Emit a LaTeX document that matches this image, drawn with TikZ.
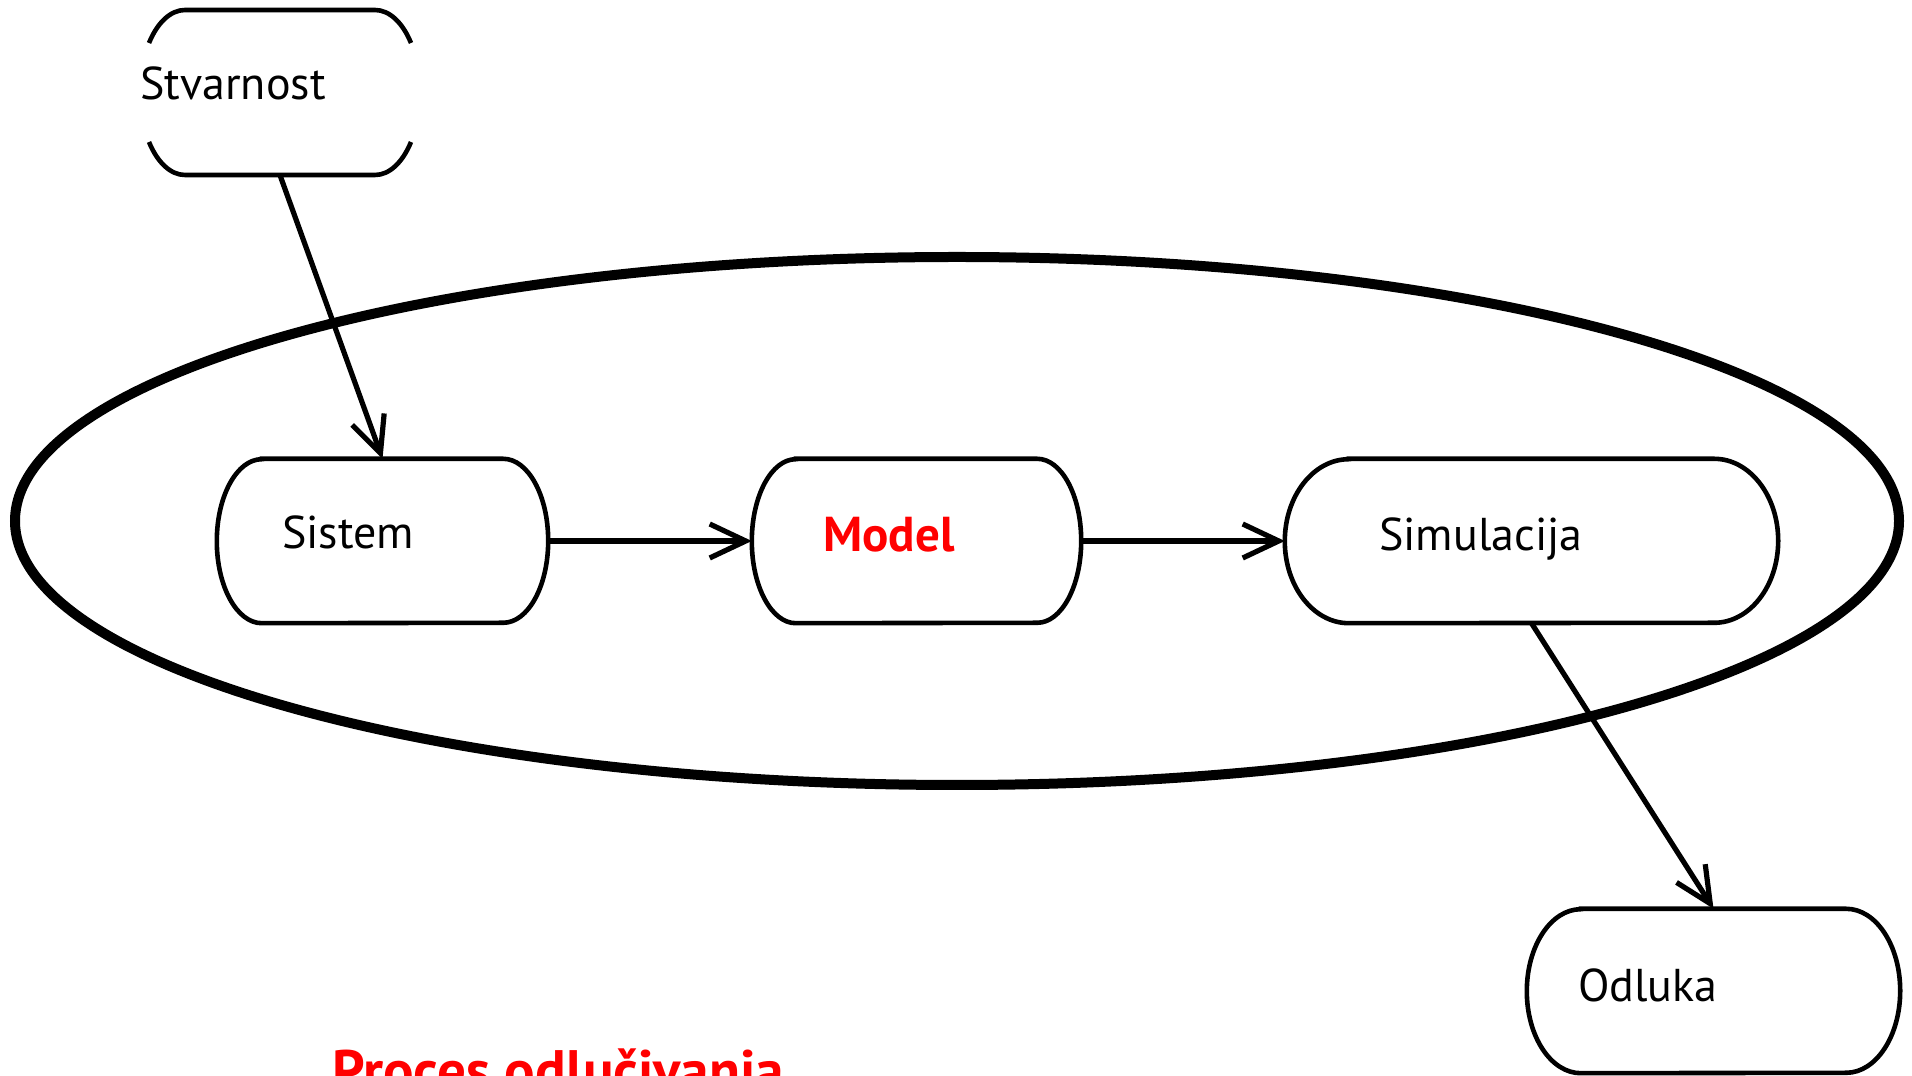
\documentclass[tikz,border=0pt]{standalone}
\usepackage{fontspec}
\setmainfont{PT Sans}
\usetikzlibrary{arrows.meta}
\definecolor{myred}{RGB}{255,0,0}
\tikzset{
  boxarea/.style={draw=none, minimum width=#1, minimum height=164pt, inner sep=0pt},
  outline/.style={line width=4.6pt, black},
  conn/.style={line width=5.2pt, -{Straight Barb[length=36pt, width=34pt, line width=5.2pt]}},
  lbl/.style={anchor=base west, inner sep=0pt, font=\fontsize{46}{52}\selectfont},
  redlbl/.style={lbl, text=myred, font=\fontsize{49}{55}\selectfont\bfseries},
  titlelbl/.style={lbl, text=myred, font=\fontsize{57}{64}\selectfont\bfseries},
}
\newcommand\stadiumline[2]{%
  \draw[outline] ([xshift=#2]#1.north west) -- ([xshift=-#2]#1.north east)
    arc[start angle=90, end angle=-90, x radius=#2, y radius=82pt]
    -- ([xshift=#2]#1.south west)
    arc[start angle=270, end angle=90, x radius=#2, y radius=82pt] -- cycle;}
\begin{document}
\begin{tikzpicture}[x=1pt,y=1pt]
\clip (0,0) rectangle (1912,1076);
\useasboundingbox (0,0) rectangle (1912,1076);
% big ellipse
\draw[line width=10pt] (957,555) ellipse[x radius=942, y radius=264];
% boxes
\node[boxarea=274pt, minimum height=165pt] (stv) at (280,983.5) {};
\node[boxarea=331pt] (sis) at (382.5,535) {};
\node[boxarea=329pt] (mod) at (916.5,535) {};
\node[boxarea=493pt] (sim) at (1531.5,535) {};
\node[boxarea=373pt] (odl) at (1713.5,85) {};
\stadiumline{sis}{45pt}
\stadiumline{mod}{44pt}
\stadiumline{sim}{64pt}
\stadiumline{odl}{54pt}
% Stvarnost outline (sides open)
\draw[outline] (149,1033) arc[start angle=143.13, end angle=90, x radius=45, y radius=82.5]
  -- (375,1066) arc[start angle=90, end angle=36.87, x radius=45, y radius=82.5];
\draw[outline] (149,934) arc[start angle=216.87, end angle=270, x radius=45, y radius=82.5]
  -- (375,901) arc[start angle=270, end angle=323.13, x radius=45, y radius=82.5];
% labels
\node[lbl] (tstv) at (140,976) {Stvarnost};
\node[lbl] (tsis) at (282,527) {Sistem};
\node[redlbl] (tmod) at (823,524) {Model};
\node[lbl] (tsim) at (1379,525) {Simulacija};
\node[lbl] (todl) at (1578,74) {Odluka};
\node[titlelbl] (tproc) at (332,-15) {Proces odlučivanja};
% connectors
\draw[conn] (stv.south) -- (sis.north);
\draw[conn] (sis.east) -- (mod.west);
\draw[conn] (mod.east) -- (sim.west);
\draw[conn] (sim.south) -- (odl.north);
\end{tikzpicture}
\end{document}
